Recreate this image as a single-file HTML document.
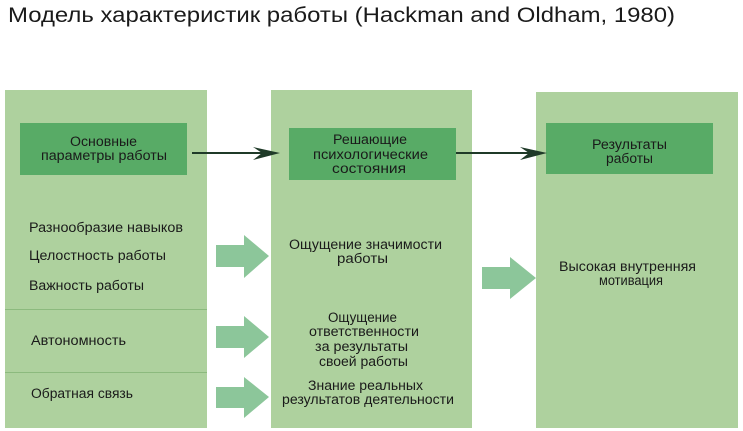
<!DOCTYPE html>
<html><head><meta charset="utf-8"><style>
html,body{margin:0;padding:0;background:#fff;}
svg{display:block;}
text{font-family:"Liberation Sans","DejaVu Sans",sans-serif;fill:#1a1a1a;}
</style></head><body>
<svg width="743" height="431" viewBox="0 0 743 431" xmlns="http://www.w3.org/2000/svg">
<rect width="743" height="431" fill="#fff"/>
<text x="8" y="22" font-size="21.5" textLength="667" lengthAdjust="spacingAndGlyphs">Модель характеристик работы (Hackman and Oldham, 1980)</text>

<!-- panels -->
<rect x="5" y="90" width="202" height="338" fill="#aed19e"/>
<rect x="271" y="90" width="201" height="338" fill="#aed19e"/>
<rect x="536" y="92" width="202" height="336" fill="#aed19e"/>

<line x1="5" y1="309.5" x2="207" y2="309.5" stroke="#8cba7e" stroke-width="1"/>
<line x1="5" y1="372.5" x2="207" y2="372.5" stroke="#8cba7e" stroke-width="1"/>

<!-- dark boxes -->
<rect x="20" y="123" width="167" height="52" fill="#58ab66"/>
<rect x="289" y="128" width="167" height="52" fill="#58ab66"/>
<rect x="546" y="123" width="167" height="51" fill="#58ab66"/>

<!-- thin connectors -->
<line x1="192" y1="153" x2="270" y2="153" stroke="#1f3a28" stroke-width="2"/>
<path d="M280,153 L253,147 L262,153 L253,160 Z" fill="#1f3a28"/>
<line x1="456" y1="153" x2="537" y2="153" stroke="#1f3a28" stroke-width="2"/>
<path d="M547,153 L520,147 L529,153 L520,160 Z" fill="#1f3a28"/>

<!-- big arrows -->
<path d="M216,245 L244,245 L244,235 L269,256 L244,278 L244,267 L216,267 Z" fill="#8cc69a"/>
<path d="M216,326 L244,326 L244,316 L269,337 L244,358 L244,348 L216,348 Z" fill="#8cc69a"/>
<path d="M216,387 L244,387 L244,377 L269,397 L244,418 L244,408 L216,408 Z" fill="#8cc69a"/>
<path d="M482,267 L510,267 L510,257 L536,278 L510,299 L510,289 L482,289 Z" fill="#8cc69a"/>

<!-- texts -->
<g font-size="13.5" text-anchor="start">
<text x="70" y="146" textLength="67" lengthAdjust="spacingAndGlyphs">Основные</text>
<text x="41" y="160" textLength="126" lengthAdjust="spacingAndGlyphs">параметры работы</text>
<text x="333" y="144" textLength="74" lengthAdjust="spacingAndGlyphs">Решающие</text>
<text x="313" y="159" textLength="115" lengthAdjust="spacingAndGlyphs">психологические</text>
<text x="332" y="173" textLength="74" lengthAdjust="spacingAndGlyphs">состояния</text>
<text x="592" y="149" textLength="75" lengthAdjust="spacingAndGlyphs">Результаты</text>
<text x="606" y="163" textLength="47" lengthAdjust="spacingAndGlyphs">работы</text>

<text x="29" y="232" textLength="154" lengthAdjust="spacingAndGlyphs">Разнообразие навыков</text>
<text x="29" y="260" textLength="137" lengthAdjust="spacingAndGlyphs">Целостность работы</text>
<text x="29" y="290" textLength="115" lengthAdjust="spacingAndGlyphs">Важность работы</text>
<text x="31" y="345" textLength="95" lengthAdjust="spacingAndGlyphs">Автономность</text>
<text x="31" y="398" textLength="102" lengthAdjust="spacingAndGlyphs">Обратная связь</text>

<text x="289" y="249" textLength="153" lengthAdjust="spacingAndGlyphs">Ощущение значимости</text>
<text x="337" y="263" textLength="51" lengthAdjust="spacingAndGlyphs">работы</text>
<text x="328" y="322" textLength="69" lengthAdjust="spacingAndGlyphs">Ощущение</text>
<text x="309" y="336" textLength="110" lengthAdjust="spacingAndGlyphs">ответственности</text>
<text x="315" y="351" textLength="93" lengthAdjust="spacingAndGlyphs">за результаты</text>
<text x="319" y="366" textLength="89" lengthAdjust="spacingAndGlyphs">своей работы</text>
<text x="308" y="390" textLength="115" lengthAdjust="spacingAndGlyphs">Знание реальных</text>
<text x="282" y="404" textLength="172" lengthAdjust="spacingAndGlyphs">результатов деятельности</text>

<text x="559" y="271" textLength="137" lengthAdjust="spacingAndGlyphs">Высокая внутренняя</text>
<text x="599" y="285" textLength="64" lengthAdjust="spacingAndGlyphs">мотивация</text>
</g>
</svg>
</body></html>
